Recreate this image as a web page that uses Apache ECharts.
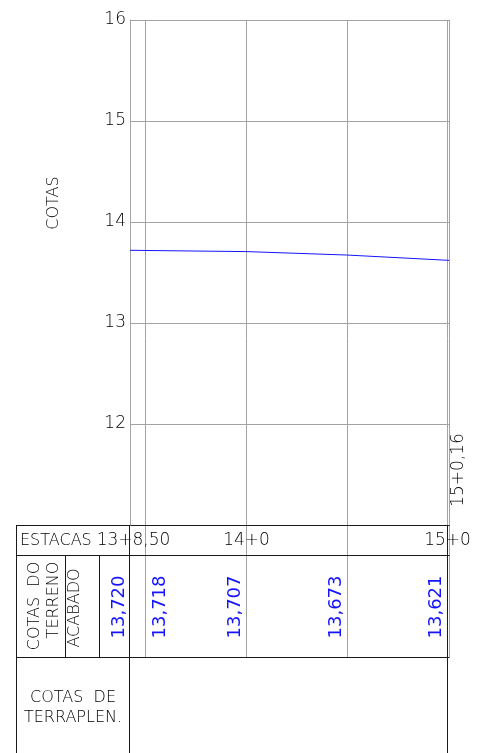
<!DOCTYPE html>
<html>
<head>
<meta charset="utf-8">
<script src="https://cdn.jsdelivr.net/npm/echarts@6/dist/echarts.min.js"></script>
<style>
html, body { margin: 0; padding: 0; background: #fff; }
#main { width: 478px; height: 753px; }
</style>
</head>
<body>
<div id="main"></div>
<script>
// estacas em metros (estaca de 20 m): 13+8,50 ... 15+0,16
var estacas = [268.5, 270, 280, 290, 300, 300.16];
var cotas = [13.720, 13.718, 13.707, 13.673, 13.621, 13.620];
// linhas verticais da grade
var estacasGrade = [270, 280, 290, 300, 300.16];
// estacas com rótulo na linha ESTACAS
var estacasRotulo = [268.5, 280, 300];
// cotas mostradas na tabela (cinco primeiras estacas)
var nTabela = 5;

var FONTE = 'DejaVu Sans';
var PESO = 200;
var CINZA = '#a3a3a3', PRETO = '#1a1a1a', AZUL = '#1414ff', TEXTO = '#000';
var TOPO = 20, BASE = 525, L1 = 555, L2 = 657, FIM = 753, ESQ = 16;

function nomeEstaca(m)
{
	var est = Math.floor(m / 20);
	var r = m - est * 20;
	var resto = Math.abs(r - Math.round(r)) < 1e-6 ? String(Math.round(r)) : r.toFixed(2).replace('.', ',');
	return est + '+' + resto;
}

var chart = echarts.init(document.getElementById('main'));

chart.setOption({
	animation: false,
	grid: { left: 130, top: TOPO, width: 319, height: BASE - TOPO },
	xAxis: {
		type: 'value',
		min: estacas[0],
		max: estacas[estacas.length - 1],
		show: false
	},
	yAxis: {
		type: 'value',
		min: 11,
		max: 16,
		interval: 1,
		axisLine: { show: true, lineStyle: { color: CINZA, width: 1 } },
		axisTick: { show: false },
		splitLine: { lineStyle: { color: CINZA, width: 1 } },
		axisLabel: {
			color: TEXTO, fontFamily: FONTE, fontWeight: PESO, fontSize: 17, margin: 4,
			formatter: function(v) { return v === 11 ? '' : String(v); }
		}
	},
	series: [{
		type: 'line',
		data: estacas.map(function(e, i) { return [e, cotas[i]]; }),
		symbol: 'none',
		silent: true,
		lineStyle: { color: AZUL, width: 1 }
	}]
});

function px(m)
{
	return Math.round(chart.convertToPixel({ xAxisIndex: 0 }, m)) + 0.5;
}

function linha(x1, y1, x2, y2, cor)
{
	return { type: 'line', silent: true, shape: { x1: x1, y1: y1, x2: x2, y2: y2 },
		style: { stroke: cor, lineWidth: 1 } };
}

function texto(t, x, y, tam, cor, rot, align, peso)
{
	return { type: 'text', silent: true, x: x, y: y, rotation: rot || 0,
		style: { text: t, fill: cor || TEXTO, font: (peso || PESO) + ' ' + tam + 'px "' + FONTE + '"',
			align: align || 'center', verticalAlign: 'middle' } };
}

var g = [];
var xIni = px(estacas[0]);
var xFim = px(300);
var xBorda = px(estacas[estacas.length - 1]);

// título do eixo
g.push(texto('COTAS', 54, 203, 16, TEXTO, Math.PI / 2));

// grade vertical das estacas
estacasGrade.forEach(function(e)
{
	g.push(linha(px(e), TOPO, px(e), L2, CINZA));
});

// tabela
[BASE, L1, L2].forEach(function(y)
{
	g.push(linha(ESQ, y + 0.5, xBorda, y + 0.5, PRETO));
});
g.push(linha(ESQ + 0.5, BASE, ESQ + 0.5, FIM, PRETO));
g.push(linha(xIni - 1, BASE, xIni - 1, FIM, PRETO));
g.push(linha(xFim, BASE, xFim, FIM, PRETO));
g.push(linha(65.5, L1, 65.5, L2, PRETO));
g.push(linha(99.5, L1, 99.5, L2, PRETO));

// linha ESTACAS
g.push(texto('ESTACAS', 20, 541, 16, TEXTO, 0, 'left'));
estacasRotulo.forEach(function(e, i)
{
	g.push(texto(nomeEstaca(e), px(e) + (i === 0 ? 3 : 0), 541, 17));
});
g.push(texto(nomeEstaca(estacas[estacas.length - 1]), xBorda + 9, 470, 17, TEXTO, Math.PI / 2));

// linha COTAS DO TERRENO ACABADO
g.push(texto('COTAS  DO', 35, 606, 16, TEXTO, Math.PI / 2));
g.push(texto('TERRENO', 54, 600, 16, TEXTO, Math.PI / 2));
g.push(texto('ACABADO', 75, 608, 16, TEXTO, Math.PI / 2));
for (var i = 0; i < nTabela; i++)
{
	var dx = (i === 1) ? 15 : -11;
	g.push(texto(cotas[i].toFixed(3).replace('.', ','), px(estacas[i]) + dx, 607, 18, AZUL, Math.PI / 2, 'center', 'normal'));
}

// linha COTAS DE TERRAPLEN.
g.push(texto('COTAS  DE', 73, 698, 16));
g.push(texto('TERRAPLEN.', 73, 718, 16));

chart.setOption({ graphic: g });
</script>
</body>
</html>
